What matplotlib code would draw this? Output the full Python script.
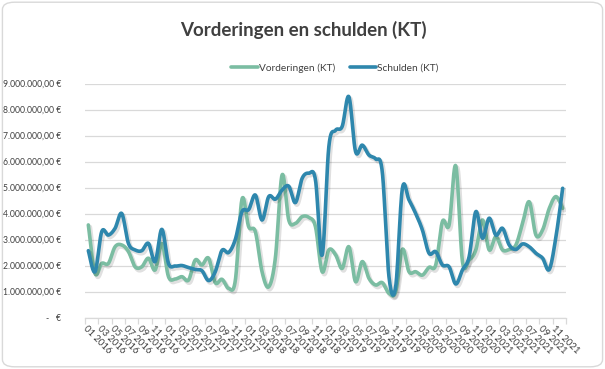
import numpy as np
import matplotlib
matplotlib.use("Agg")
import matplotlib.pyplot as plt
from matplotlib.patches import FancyBboxPatch
from matplotlib.ticker import FixedLocator, FuncFormatter
import matplotlib.patheffects as pe

plt.rcParams['font.family'] = ['Lato', 'DejaVu Sans']

title = "Vorderingen en schulden (KT)"
series_names = ["Vorderingen (KT)", "Schulden (KT)"]
months = [f"{m:02d} {y}" for y in range(2016, 2022) for m in range(1, 13)]

vorderingen = [
    3.56, 1.70, 2.08, 2.08, 2.72, 2.79, 2.54, 1.95, 1.95, 2.28, 1.83, 2.85,
    1.57, 1.48, 1.57, 1.44, 2.21, 2.02, 2.28, 1.34, 1.47, 1.12, 1.42, 4.55,
    3.49, 3.30, 1.76, 1.18, 2.30, 5.48, 3.75, 3.62, 3.88, 3.85, 3.49, 1.76,
    2.60, 2.42, 1.89, 2.72, 1.38, 2.15, 1.51, 1.25, 1.34, 0.93, 0.99, 2.62,
    1.76, 1.76, 1.63, 1.93, 2.02, 3.69, 3.56, 5.83, 2.15, 2.21, 2.60, 3.75,
    2.60, 3.11, 2.60, 2.62, 2.79, 3.62, 4.45, 3.17, 3.37, 4.20, 4.65, 4.20,
]
schulden = [
    2.57, 1.76, 3.30, 3.17, 3.43, 4.00, 2.85, 2.60, 2.57, 2.85, 2.15, 3.39,
    2.08, 1.98, 2.00, 1.92, 1.85, 1.80, 1.42, 1.76, 2.58, 2.50, 3.00, 4.07,
    4.15, 4.71, 3.75, 4.65, 4.55, 4.90, 5.05, 4.42, 5.35, 5.55, 5.29, 2.40,
    6.57, 7.20, 7.35, 8.49, 6.38, 6.63, 6.25, 6.10, 5.60, 1.57, 1.18, 4.95,
    4.52, 4.00, 3.37, 2.47, 2.53, 2.02, 1.95, 1.29, 1.83, 2.34, 4.07, 3.05,
    3.82, 3.17, 3.43, 2.79, 2.62, 2.83, 2.72, 2.47, 2.28, 1.85, 3.11, 4.97,
]
colors = ["#7BBDA2", "#2E87AD"]


def smooth(xs, ys, n=20):
    """Excel-like smoothed line through the points (cubic Bezier, Catmull-Rom)."""
    xs = np.asarray(xs, float)
    ys = np.asarray(ys, float)
    px, py = [], []
    N = len(xs)
    for i in range(N - 1):
        x0, y0 = (xs[i - 1], ys[i - 1]) if i > 0 else (xs[i], ys[i])
        x1, y1 = xs[i], ys[i]
        x2, y2 = xs[i + 1], ys[i + 1]
        x3, y3 = (xs[i + 2], ys[i + 2]) if i + 2 < N else (xs[i + 1], ys[i + 1])
        c1x, c1y = x1 + (x2 - x0) / 6, y1 + (y2 - y0) / 6
        c2x, c2y = x2 - (x3 - x1) / 6, y2 - (y3 - y1) / 6
        t = np.linspace(0, 1, n, endpoint=False)
        b0 = (1 - t) ** 3
        b1 = 3 * (1 - t) ** 2 * t
        b2 = 3 * (1 - t) * t ** 2
        b3 = t ** 3
        px.extend(b0 * x1 + b1 * c1x + b2 * c2x + b3 * x2)
        py.extend(b0 * y1 + b1 * c1y + b2 * c2y + b3 * y2)
    px.append(xs[-1])
    py.append(ys[-1])
    return np.array(px), np.array(py)


fig = plt.figure(figsize=(6.05, 3.69), dpi=100)
fig.patch.set_facecolor("white")

border = FancyBboxPatch((0.004, 0.006), 0.992, 0.988,
                        boxstyle="round,pad=0,rounding_size=0.02",
                        transform=fig.transFigure, facecolor="none",
                        edgecolor="#D9D9D9", linewidth=1.0, zorder=10)
fig.patches.append(border)

ax = fig.add_axes([85 / 605, 1 - 317.5 / 369, 481 / 605, 234 / 369])
ax.set_facecolor("none")

x = np.arange(len(months))
for vals, name, col in zip([vorderingen, schulden], series_names, colors):
    y = np.array(vals) * 1e6
    sx, sy = smooth(x, y)
    ax.plot(sx, sy, color=col, linewidth=2.6, solid_capstyle="round",
            label=name, zorder=3,
            path_effects=[pe.SimpleLineShadow(offset=(1.2, -1.5), shadow_color="#000000",
                                              alpha=0.12, linewidth=3.2),
                          pe.Normal()])

ax.set_xlim(-0.5, len(months) - 0.5)
ax.set_ylim(0, 9e6)
ax.set_yticks(np.arange(0, 9e6 + 1, 1e6))


def eur(v, pos):
    if v == 0:
        return "-   €"
    s = f"{v:,.2f}".replace(",", "X").replace(".", ",").replace("X", ".")
    return s + " €"


ax.yaxis.set_major_formatter(FuncFormatter(eur))
ax.grid(axis="y", color="#D9D9D9", linewidth=0.9)
ax.set_axisbelow(True)
for s in ["top", "right", "left"]:
    ax.spines[s].set_visible(False)
ax.spines["bottom"].set_color("#D9D9D9")
ax.spines["bottom"].set_linewidth(0.9)
ax.tick_params(axis="y", length=0, pad=17, labelsize=6.2, labelcolor="#404040")

ax.set_xticks(x[::2])
ax.set_xticklabels(months[::2], rotation=-45, ha="left", va="top",
                   rotation_mode="anchor", fontsize=6.8, color="#404040")
ax.tick_params(axis="x", which="major", length=0, pad=5)
ax.xaxis.set_minor_locator(FixedLocator(np.arange(-0.5, len(months), 2)))
ax.tick_params(axis="x", which="minor", length=4, color="#D9D9D9", width=0.9)

fig.text(0.502, 1 - 30 / 369, title, ha="center", va="center",
         fontsize=13.5, fontweight="bold", color="#404040")

leg = fig.legend(loc="center", bbox_to_anchor=(335 / 605, 1 - 68 / 369), ncol=2,
                 frameon=False, fontsize=7.3, handlelength=2.6, handletextpad=0.1,
                 columnspacing=1.5)
for t in leg.get_texts():
    t.set_color("#404040")
for h in leg.get_lines():
    h.set_linewidth(2.6)
    h.set_path_effects([])

fig.savefig("out.png", dpi=100, facecolor="white")
